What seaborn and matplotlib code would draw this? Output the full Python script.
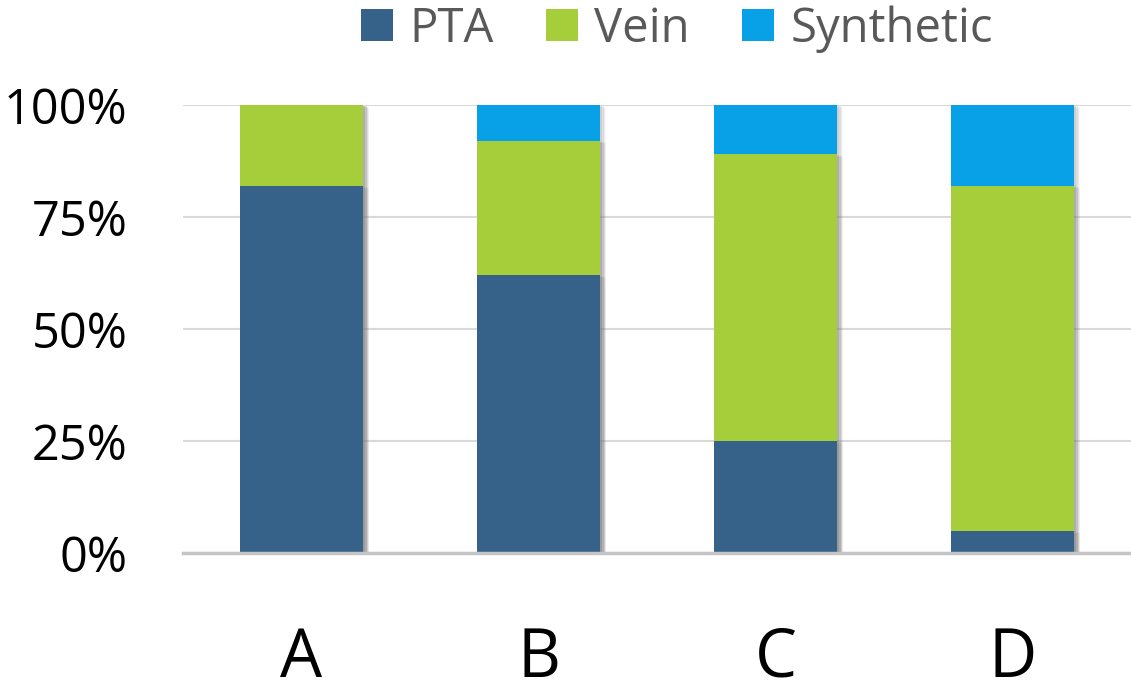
import matplotlib
matplotlib.use("Agg")
import matplotlib.pyplot as plt
import matplotlib.patheffects as pe
from matplotlib.ticker import FuncFormatter
from matplotlib.patches import Patch
import numpy as np
import pandas as pd
import seaborn as sns

# Share of each access type per group (percent)
groups = ["A", "B", "C", "D"]
pta = [82, 62, 25, 5]
vein = [18, 30, 64, 77]
synthetic = [0, 8, 11, 18]

series_names = ["PTA", "Vein", "Synthetic"]
colors = {"PTA": "#366189", "Vein": "#a6cd3a", "Synthetic": "#08a0e6"}

sns.set_theme(style="white")
plt.rcParams["font.family"] = ["Open Sans", "DejaVu Sans"]

df = pd.DataFrame({"group": groups, "PTA": pta, "Vein": vein, "Synthetic": synthetic})
cum = df[series_names].cumsum(axis=1) / 100.0
cum["group"] = df["group"]

fig = plt.figure(figsize=(11.31, 6.92), dpi=100)
ax = fig.add_axes([183 / 1131, 1 - 553 / 692, (1131 - 183) / 1131, (553 - 105) / 692])

# Soft drop shadow built from a few faint offset copies
shadow = [pe.SimplePatchShadow(offset=(d, -d * 0.4), shadow_rgbFace="#7a7a7a", alpha=a)
          for d, a in [(4.5, 0.06), (3.5, 0.09), (2.5, 0.12), (1.5, 0.15)]]
shadow.append(pe.Normal())

# Stack by drawing cumulative totals, tallest first
for name in reversed(series_names):
    sns.barplot(data=cum, x="group", y=name, color=colors[name], width=0.52,
                saturation=1, ax=ax, zorder=3)

for bar in ax.patches:
    bar.set_path_effects(shadow)
    bar.set_linewidth(0)

ax.set_ylim(0, 1)
ax.set_xlim(-0.5, 3.5)
ax.set_yticks([0, 0.25, 0.5, 0.75, 1.0])
ax.yaxis.set_major_formatter(FuncFormatter(lambda v, _: f"{v * 100:.0f}%"))
ax.grid(axis="y", color="#d9d9d9", linewidth=1.5, zorder=0)
ax.set_axisbelow(True)
ax.set_xlabel("")
ax.set_ylabel("")

for side in ["top", "right", "left"]:
    ax.spines[side].set_visible(False)
ax.spines["bottom"].set_color("#c4c4c4")
ax.spines["bottom"].set_linewidth(2.5)
ax.spines["bottom"].set_zorder(4)

ax.tick_params(axis="y", labelsize=35, length=0, pad=40, labelcolor="black")
ax.tick_params(axis="x", labelsize=48, length=0, pad=52, labelcolor="black")

handles = [Patch(facecolor=colors[n], edgecolor="none") for n in series_names]
leg = fig.legend(handles, series_names, loc="center", bbox_to_anchor=(677 / 1131, 1 - 29 / 692),
                 ncol=3, frameon=False, fontsize=34, handlelength=0.68, handleheight=0.68,
                 handletextpad=0.35, columnspacing=1.1, labelcolor="#595959")

fig.savefig("out.png", dpi=100)
